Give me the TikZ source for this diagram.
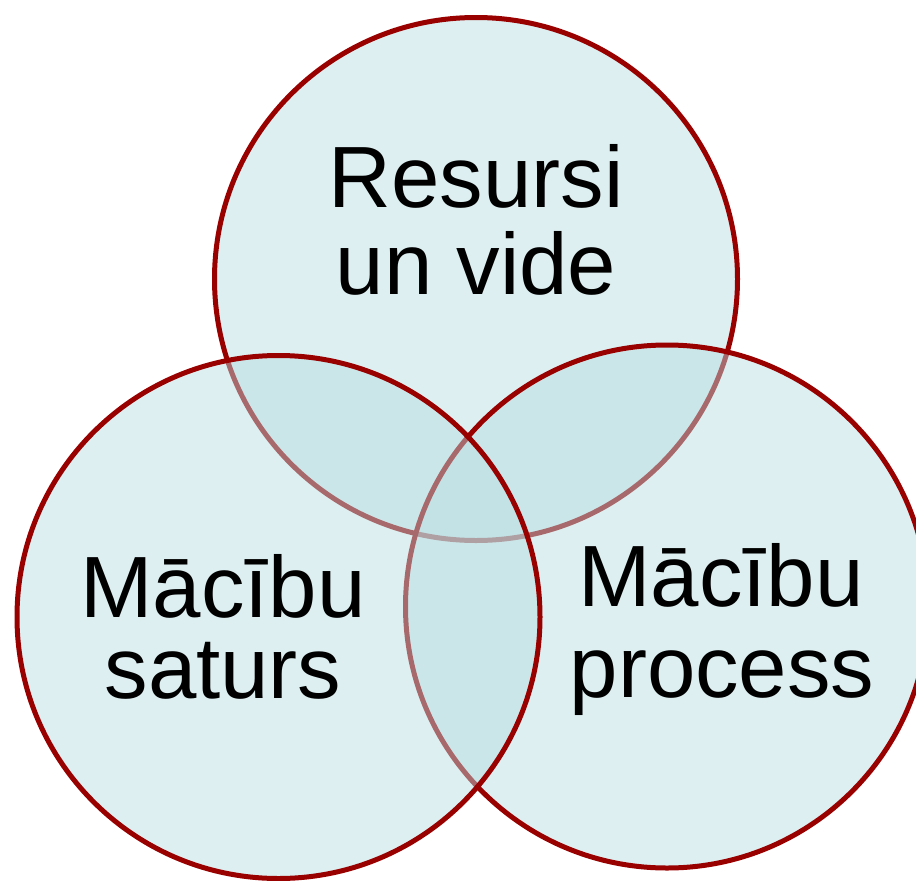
\documentclass[tikz,border=0pt]{standalone}
\usepackage{fontspec}
\setmainfont{Liberation Sans}
\definecolor{vennfill}{RGB}{184,221,225}
\definecolor{vennline}{RGB}{153,0,0}
\tikzset{
  venn/.style={circle, draw=vennline, line width=5pt, fill=vennfill,
    fill opacity=0.48, draw opacity=1, minimum size=523pt, inner sep=0pt},
  lbl/.style={anchor=base, inner sep=0pt, text=black,
    font=\fontsize{87}{87}\selectfont}
}
\begin{document}
\begin{tikzpicture}[x=1pt,y=-1pt]
\useasboundingbox (0,0) rectangle (916,881);
\node[venn] (ctop) at (476,279) {};
\node[venn] (cright) at (667,606.5) {};
\node[venn] (cleft) at (278.5,617) {};
\node[lbl] (t1) at (476,207) {Resursi};
\node[lbl] (t2) at (476,294) {un vide};
\node[lbl] (l1) at (223,617) {Mācību};
\node[lbl] (l2) at (223,698) {saturs};
\node[lbl] (r1) at (721,606) {Mācību};
\node[lbl] (r2) at (722,697) {process};
\end{tikzpicture}
\end{document}
